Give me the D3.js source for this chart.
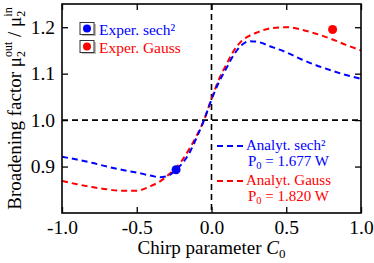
<!DOCTYPE html>
<html>
<head>
<meta charset="utf-8">
<script src="https://cdn.jsdelivr.net/npm/d3@7"></script>
<style>
  body { margin: 0; background: #fff; }
  svg { font-family: "Liberation Serif", "Times New Roman", serif; }
</style>
</head>
<body>
<svg id="chart"></svg>
<script>
// chirp parameter grid and analytic curves
const chirp = [-1.0, -0.9, -0.8, -0.7, -0.6, -0.5, -0.4, -0.35, -0.3, -0.25, -0.2, -0.15, -0.1, -0.05,
  0.0, 0.05, 0.1, 0.15, 0.2, 0.25, 0.3, 0.4, 0.5, 0.6, 0.7, 0.8, 0.9, 1.0];
const analytSech = [0.921, 0.915, 0.908, 0.900, 0.893, 0.887, 0.880, 0.877, 0.879, 0.889, 0.905, 0.928, 0.962, 1.000,
  1.044, 1.082, 1.112, 1.141, 1.161, 1.170, 1.169, 1.158, 1.146, 1.131, 1.118, 1.107, 1.097, 1.089];
const analytGauss = [0.869, 0.862, 0.856, 0.851, 0.848, 0.848, 0.859, 0.867, 0.879, 0.893, 0.912, 0.937, 0.966, 1.000,
  1.046, 1.088, 1.120, 1.150, 1.170, 1.181, 1.188, 1.198, 1.200, 1.195, 1.186, 1.175, 1.162, 1.150];

// experimental points
const experSech = [{ c: -0.237, v: 0.893 }];
const experGauss = [{ c: 0.81, v: 1.195 }];

const xTicks = [-1.0, -0.5, 0.0, 0.5, 1.0];
const yTicks = [0.9, 1.0, 1.1, 1.2];

const BLUE = "#0000ff";
const RED = "#ff0000";

const W = 374, H = 263;
const margin = { top: 4, right: 13, bottom: 50, left: 62 };
const width = W - margin.left - margin.right;
const height = H - margin.top - margin.bottom;

const svg = d3.select("#chart").attr("width", W).attr("height", H);
const g = svg.append("g").attr("transform", `translate(${margin.left},${margin.top})`);

const x = d3.scaleLinear().domain([-1, 1]).range([0, width]);
const y = d3.scaleLinear().domain([0.8, 1.25]).range([height, 0]);

// plain hyphen for negatives, like the original
const fmt = (d) => d.toFixed(1);

// axes with inward ticks
const styleAxis = (sel) => {
  sel.select(".domain").remove();
  sel.selectAll(".tick line").attr("stroke", "#000").attr("stroke-width", 1.3);
  sel.selectAll(".tick text").attr("font-size", 19.5).attr("font-family", "Liberation Serif").attr("fill", "#000");
};
g.append("g").attr("transform", `translate(0,${height})`)
  .call(d3.axisBottom(x).tickValues(xTicks).tickSize(-6).tickPadding(7).tickFormat(fmt))
  .call(styleAxis);
g.append("g")
  .call(d3.axisTop(x).tickValues(xTicks).tickSize(-6).tickFormat(""))
  .call(styleAxis);
g.append("g")
  .call(d3.axisLeft(y).tickValues(yTicks).tickSize(-6).tickPadding(7).tickFormat(fmt))
  .call(styleAxis);
g.append("g").attr("transform", `translate(${width},0)`)
  .call(d3.axisRight(y).tickValues(yTicks).tickSize(-6).tickFormat(""))
  .call(styleAxis);

// reference lines
g.append("line").attr("x1", 0).attr("x2", width).attr("y1", y(1.0)).attr("y2", y(1.0))
  .attr("stroke", "#000").attr("stroke-width", 1.6).attr("stroke-dasharray", "6,4");
g.append("line").attr("x1", x(0)).attr("x2", x(0)).attr("y1", 0).attr("y2", height)
  .attr("stroke", "#000").attr("stroke-width", 1.6).attr("stroke-dasharray", "6,4");

// curves
const line = d3.line().x((d) => x(d[0])).y((d) => y(d[1])).curve(d3.curveMonotoneX);
g.append("path").datum(chirp.map((c, i) => [c, analytGauss[i]]))
  .attr("fill", "none").attr("stroke", RED).attr("stroke-width", 2).attr("stroke-dasharray", "6,4")
  .attr("d", line);
g.append("path").datum(chirp.map((c, i) => [c, analytSech[i]]))
  .attr("fill", "none").attr("stroke", BLUE).attr("stroke-width", 2).attr("stroke-dasharray", "6,4")
  .attr("d", line);

// experimental dots
g.selectAll(".dotS").data(experSech).enter().append("circle")
  .attr("cx", (d) => x(d.c)).attr("cy", (d) => y(d.v)).attr("r", 4.5).attr("fill", BLUE);
g.selectAll(".dotG").data(experGauss).enter().append("circle")
  .attr("cx", (d) => x(d.c)).attr("cy", (d) => y(d.v)).attr("r", 4.5).attr("fill", RED);

// frame
g.append("rect").attr("width", width).attr("height", height)
  .attr("fill", "none").attr("stroke", "#000").attr("stroke-width", 1.6);

// legend top-left (symbols)
const legTop = [{ label: "Exper. sech²", color: BLUE }, { label: "Exper. Gauss", color: RED }];
legTop.forEach((d, i) => {
  const cy = 29 + i * 18;
  svg.append("rect").attr("x", 82).attr("y", cy - 5).attr("width", 14).attr("height", 12).attr("fill", "#bbb");
  svg.append("rect").attr("x", 80).attr("y", cy - 6.5).attr("width", 14).attr("height", 12)
    .attr("fill", "#fff").attr("stroke", "#333").attr("stroke-width", 1);
  svg.append("circle").attr("cx", 87).attr("cy", cy - 0.5).attr("r", 4).attr("fill", d.color);
  svg.append("text").attr("x", 99).attr("y", cy + 5.5).attr("font-size", 15.5).attr("fill", d.color).text(d.label);
});

// legend bottom-right (lines)
const legBot = [
  { label: "Analyt. sech²", p0: "1.677", color: BLUE, yy: 146 },
  { label: "Analyt. Gauss", p0: "1.820", color: RED, yy: 181 },
];
legBot.forEach((d) => {
  svg.append("line").attr("x1", 217).attr("x2", 244).attr("y1", d.yy).attr("y2", d.yy)
    .attr("stroke", d.color).attr("stroke-width", 2).attr("stroke-dasharray", "6,4");
  svg.append("text").attr("x", 246).attr("y", d.yy + 3.5).attr("font-size", 15).attr("fill", d.color).text(d.label);
  const t = svg.append("text").attr("x", 248).attr("y", d.yy + 20).attr("font-size", 15).attr("fill", d.color);
  t.append("tspan").text("P");
  t.append("tspan").attr("font-size", 10.5).attr("dy", 2.5).text("0");
  t.append("tspan").attr("dy", -2.5).text(` = ${d.p0} W`);
});

// x axis title
const xt = svg.append("text").attr("x", margin.left + width / 2).attr("y", 254)
  .attr("text-anchor", "middle").attr("font-size", 19);
xt.append("tspan").text("Chirp parameter ");
xt.append("tspan").attr("font-style", "italic").text("C");
xt.append("tspan").attr("font-size", 13).attr("dy", 4).text("0");

// y axis title
const yt = svg.append("text").attr("transform", "rotate(-90)")
  .attr("x", -(margin.top + height / 2)).attr("y", 21)
  .attr("text-anchor", "middle").attr("font-size", 19);
yt.append("tspan").text("Broadening factor μ");
yt.append("tspan").attr("font-size", 12).attr("dy", 4).text("2");
yt.append("tspan").attr("font-size", 12).attr("dx", -6).attr("dy", -13).text("out");
yt.append("tspan").attr("dy", 9).text(" / μ");
yt.append("tspan").attr("font-size", 12).attr("dy", 4).text("2");
yt.append("tspan").attr("font-size", 12).attr("dx", -6).attr("dy", -13).text("in");
</script>
</body>
</html>
